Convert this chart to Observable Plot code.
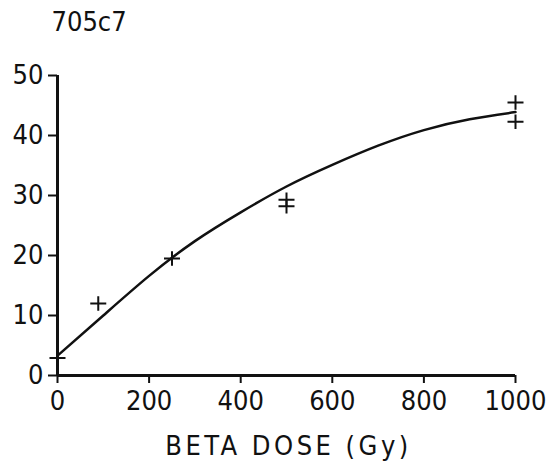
<!DOCTYPE html>
<html>
<head>
<meta charset="utf-8">
<script src="https://cdn.jsdelivr.net/npm/d3@7"></script>
<script src="https://cdn.jsdelivr.net/npm/@observablehq/plot@0.6"></script>
<style>
  html, body { margin: 0; padding: 0; background: #fff; }
</style>
</head>
<body>
<div id="chart"></div>
<script>
const title = "705c7";
const xLabel = "BETA DOSE (Gy)";
const xTicks = [0, 200, 400, 600, 800, 1000];
const yTicks = [0, 10, 20, 30, 40, 50];

// measured points (+ markers)
const pointDose  = [0, 89, 250, 500, 500, 1000, 1000];
const pointValue = [2.9, 12.0, 19.5, 29.3, 28.2, 45.5, 42.3];

// fitted curve
const curveDose  = [0, 100, 200, 300, 400, 500, 600, 700, 800, 900, 1000];
const curveValue = [3.3, 10.0, 16.6, 22.4, 27.2, 31.5, 35.1, 38.3, 40.9, 42.7, 43.9];

const points = pointDose.map((d, i) => ({dose: d, value: pointValue[i]}));
const curve = curveDose.map((d, i) => ({dose: d, value: curveValue[i]}));

const plusSymbol = {
  draw(context, size) {
    const r = Math.sqrt(size / Math.PI);
    context.moveTo(-r, 0); context.lineTo(r, 0);
    context.moveTo(0, -r * 0.9); context.lineTo(0, r * 0.9);
  }
};

const font = "'DejaVu Sans Condensed', 'DejaVu Sans', sans-serif";

const chart = Plot.plot({
  width: 548,
  height: 469,
  marginLeft: 57,
  marginRight: 33,
  marginTop: 75,
  marginBottom: 94,
  x: {domain: [0, 1000]},
  y: {domain: [0, 50]},
  style: {fontFamily: font, fontSize: "27px", color: "#111", background: "#fff"},
  marks: [
    Plot.axisX({ticks: xTicks, tickFormat: d => String(d), tickSize: 8, tickPadding: 7, label: null, strokeWidth: 2, fontSize: 27}),
    Plot.axisY({ticks: yTicks, tickFormat: d => String(d), tickSize: 9, tickPadding: 5, label: null, strokeWidth: 2, fontSize: 27}),
    Plot.ruleY([0], {stroke: "#111", strokeWidth: 3}),
    Plot.ruleX([0], {stroke: "#111", strokeWidth: 3}),
    Plot.line(curve, {x: "dose", y: "value", curve: "natural", stroke: "#111", strokeWidth: 2.5}),
    Plot.dot(points, {x: "dose", y: "value", symbol: plusSymbol, r: 8, stroke: "#111", strokeWidth: 2, fill: "none"}),
    Plot.text([xLabel], {frameAnchor: "bottom", dx: 2, dy: 60, lineAnchor: "top", fontSize: 27, fill: "#111"}),
    Plot.text([title], {frameAnchor: "top-left", dx: -6, dy: -64, lineAnchor: "top", textAnchor: "start", fontSize: 27, fill: "#111"})
  ]
});
chart.querySelectorAll("text").forEach(t => {
  if (t.textContent === xLabel) t.style.letterSpacing = "3.5px";
});
document.getElementById("chart").appendChild(chart);
</script>
</body>
</html>
